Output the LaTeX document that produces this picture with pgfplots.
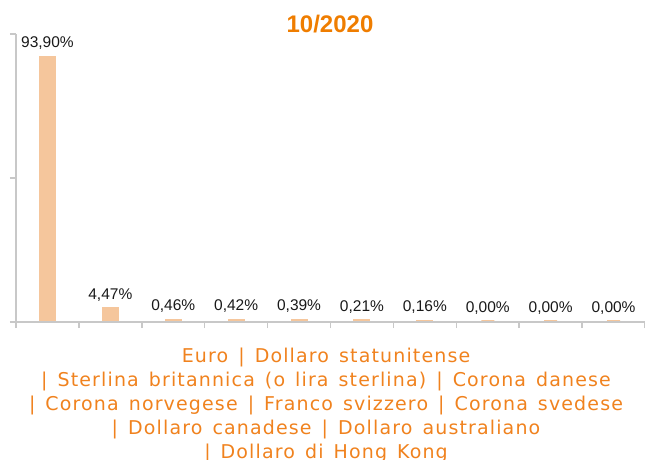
\documentclass[border=0pt]{standalone}
\usepackage{pgfplots}
\pgfplotsset{compat=1.18}
\usepackage{pgfplotstable}
\usepackage{fontspec}
\setmainfont{Liberation Sans}
\newfontfamily\catfont[LetterSpace=6,WordSpace=1.4]{DejaVu Sans}
\definecolor{barc}{HTML}{F5C69C}
\definecolor{axc}{HTML}{C8C8C8}
\definecolor{orT}{HTML}{EF7D00}
\definecolor{orC}{HTML}{F0821E}
\pgfplotstableread{
x y label
0 93.90 93,90\%
1 4.47 4,47\%
2 0.46 0,46\%
3 0.42 0,42\%
4 0.39 0,39\%
5 0.21 0,21\%
6 0.16 0,16\%
7 0.00 0,00\%
8 0.00 0,00\%
9 0.00 0,00\%
}\datatable
\begin{document}
\begin{tikzpicture}[x=1pt,y=1pt]
\path[use as bounding box] (0,0) rectangle (645,459);
\begin{axis}[
  at={(16pt,137pt)}, anchor=south west,
  scale only axis, width=629pt, height=288pt,
  xmin=-0.5, xmax=9.5, ymin=0, ymax=102.4,
  axis x line*=bottom, axis y line*=left,
  axis line style={draw=axc, line width=2pt},
  xtick={-0.5,0.5,...,9.5}, ytick={0,51.2,102.4},
  xticklabels={}, yticklabels={},
  tick align=outside, major tick length=6pt,
  tick style={draw=axc, line width=1.5pt},
  clip=true, axis on top,
  ybar, bar width=13pt,
  nodes near coords,
  point meta=explicit symbolic,
  nodes near coords style={anchor=base, yshift=10pt, font=\fontsize{15.5}{17}\selectfont, text=black!90},
]
\addplot[fill=barc, draw=barc, line width=4pt] table[x=x, y=y, meta=label] {\datatable};
\end{axis}
\node[font=\bfseries\fontsize{24}{28}\selectfont, text=orT] at (330,435) {10/2020};
\begin{scope}[every node/.style={anchor=base, text=orC, font=\catfont\fontsize{19}{24}\selectfont, inner sep=0pt}]
\node at (326,96.3) {Euro | Dollaro statunitense};
\node at (326,72.3) {| Sterlina britannica (o lira sterlina) | Corona danese};
\node at (326,48.3) {| Corona norvegese | Franco svizzero | Corona svedese};
\node at (326,24.3) {| Dollaro canadese | Dollaro australiano};
\node at (326,0.3) {| Dollaro di Hong Kong};
\end{scope}
\end{tikzpicture}
\end{document}
